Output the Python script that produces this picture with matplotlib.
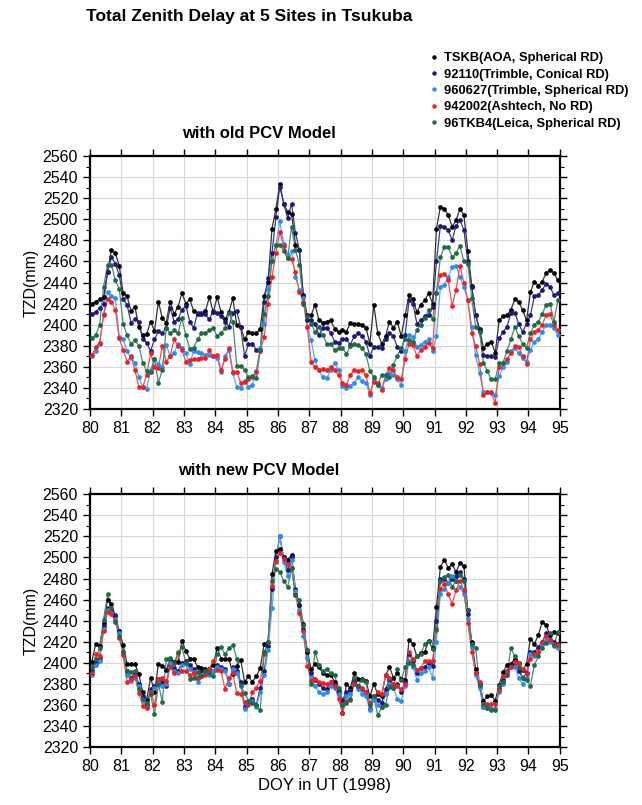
import matplotlib

matplotlib.use("Agg")
import matplotlib.pyplot as plt
import numpy as np
from matplotlib.lines import Line2D
from matplotlib.ticker import MultipleLocator

# 3-hourly epochs, DOY 80-95 (1998)
EPOCH = 80 + (np.arange(120) + 0.5) / 8

SITES = [
    "TSKB(AOA, Spherical RD)",
    "92110(Trimble, Conical RD)",
    "960627(Trimble, Spherical RD)",
    "942002(Ashtech, No RD)",
    "96TKB4(Leica, Spherical RD)",
]
COLORS = ["#000000", "#1b1a7a", "#2a8cf0", "#f01e1e", "#1d6b45"]
LINE_COLORS = ["#333333", "#3a3a8c", "#5aa8f5", "#f05050", "#4f8a6c"]

# TZD (mm), old PCV model
OLD_TSKB = [
    2420, 2422, 2424, 2426, 2450, 2471, 2468, 2456,
    2430, 2427, 2413, 2417, 2398, 2390, 2391, 2403,
    2394, 2422, 2406, 2402, 2422, 2410, 2417, 2430,
    2420, 2424, 2413, 2410, 2410, 2413, 2426, 2412,
    2426, 2412, 2405, 2412, 2425, 2400, 2398, 2386,
    2393, 2392, 2392, 2396, 2427, 2441, 2491, 2510,
    2534, 2515, 2507, 2505, 2476, 2471, 2428, 2409,
    2409, 2419, 2404, 2402, 2403, 2404, 2396, 2393,
    2395, 2393, 2402, 2401, 2401, 2400, 2397, 2382,
    2419, 2392, 2382, 2389, 2403, 2397, 2403, 2389,
    2409, 2428, 2424, 2412, 2419, 2423, 2430, 2420,
    2491, 2512, 2510, 2504, 2493, 2499, 2510, 2504,
    2470, 2437, 2409, 2396, 2378, 2382, 2384, 2373,
    2404, 2408, 2409, 2414, 2424, 2422, 2414, 2404,
    2431, 2441, 2437, 2441, 2449, 2452, 2449, 2442,
]
OLD_92110 = [
    2410, 2412, 2416, 2420, 2450, 2464, 2458, 2447,
    2424, 2419, 2402, 2405, 2403, 2386, 2383, 2375,
    2386, 2394, 2392, 2397, 2416, 2403, 2405, 2414,
    2418, 2403, 2397, 2411, 2411, 2410, 2405, 2413,
    2411, 2408, 2403, 2398, 2411, 2413, 2398, 2370,
    2382, 2382, 2376, 2376, 2422, 2444, 2468, 2502,
    2531, 2515, 2501, 2515, 2487, 2471, 2427, 2404,
    2404, 2401, 2390, 2397, 2397, 2392, 2384, 2383,
    2386, 2386, 2381, 2389, 2392, 2389, 2384, 2370,
    2379, 2379, 2378, 2386, 2392, 2389, 2379, 2375,
    2390, 2423, 2420, 2401, 2404, 2408, 2409, 2417,
    2460, 2494, 2493, 2490, 2480, 2494, 2499, 2490,
    2460, 2436, 2409, 2395, 2371, 2370, 2370, 2369,
    2387, 2393, 2398, 2411, 2411, 2401, 2393, 2401,
    2409, 2427, 2428, 2433, 2439, 2436, 2428, 2430,
]
OLD_960627 = [
    2370, 2375, 2382, 2410, 2431, 2427, 2425, 2388,
    2386, 2375, 2368, 2364, 2350, 2341, 2339, 2357,
    2367, 2363, 2360, 2381, 2370, 2373, 2382, 2378,
    2373, 2363, 2375, 2374, 2373, 2371, 2371, 2370,
    2368, 2355, 2370, 2376, 2354, 2341, 2340, 2347,
    2341, 2343, 2356, 2378, 2401, 2434, 2461, 2476,
    2498, 2477, 2466, 2470, 2445, 2433, 2425, 2398,
    2385, 2366, 2357, 2350, 2349, 2357, 2364, 2357,
    2342, 2340, 2342, 2345, 2350, 2347, 2345, 2333,
    2348, 2343, 2340, 2348, 2354, 2352, 2348, 2343,
    2375, 2390, 2388, 2379, 2381, 2384, 2386, 2375,
    2389, 2436, 2438, 2445, 2455, 2456, 2445, 2436,
    2423, 2398, 2371, 2354, 2336, 2336, 2335, 2333,
    2351, 2360, 2365, 2375, 2378, 2373, 2368, 2365,
    2376, 2384, 2386, 2393, 2400, 2400, 2397, 2390,
]
OLD_942002 = [
    2371, 2379, 2383, 2409, 2424, 2422, 2414, 2387,
    2376, 2365, 2370, 2357, 2341, 2341, 2352, 2373,
    2360, 2359, 2380, 2365, 2370, 2386, 2380, 2376,
    2365, 2366, 2367, 2367, 2368, 2368, 2376, 2370,
    2371, 2357, 2367, 2378, 2355, 2355, 2345, 2346,
    2348, 2350, 2355, 2375, 2388, 2420, 2445, 2468,
    2488, 2475, 2463, 2462, 2450, 2431, 2422, 2398,
    2365, 2360, 2357, 2358, 2357, 2360, 2357, 2352,
    2345, 2343, 2352, 2357, 2356, 2357, 2352, 2335,
    2346, 2345, 2338, 2352, 2359, 2357, 2350, 2348,
    2367, 2382, 2381, 2370, 2376, 2379, 2383, 2378,
    2430, 2447, 2448, 2442, 2418, 2433, 2456, 2440,
    2423, 2392, 2380, 2363, 2333, 2336, 2336, 2326,
    2360, 2364, 2367, 2373, 2380, 2379, 2370, 2363,
    2386, 2393, 2395, 2400, 2409, 2410, 2400, 2395,
]
OLD_96TKB4 = [
    2387, 2390, 2400, 2436, 2457, 2457, 2442, 2434,
    2401, 2390, 2382, 2385, 2380, 2364, 2356, 2355,
    2367, 2345, 2357, 2397, 2392, 2395, 2392, 2406,
    2390, 2377, 2378, 2386, 2392, 2392, 2395, 2397,
    2389, 2392, 2397, 2411, 2403, 2361, 2361, 2357,
    2350, 2351, 2349, 2376, 2410, 2427, 2460, 2476,
    2476, 2470, 2463, 2493, 2471, 2457, 2420, 2408,
    2401, 2393, 2398, 2390, 2382, 2382, 2376, 2378,
    2378, 2372, 2380, 2382, 2381, 2378, 2372, 2356,
    2350, 2343, 2352, 2352, 2350, 2362, 2370, 2378,
    2386, 2385, 2384, 2395, 2400, 2406, 2414, 2405,
    2430, 2464, 2474, 2474, 2464, 2468, 2475, 2460,
    2458, 2425, 2398, 2393, 2364, 2356, 2348, 2348,
    2364, 2364, 2375, 2386, 2398, 2389, 2382, 2378,
    2392, 2400, 2403, 2410, 2419, 2420, 2403, 2423,
]

# TZD (mm), new PCV model
NEW_TSKB = [
    2401, 2418, 2416, 2438, 2460, 2456, 2444, 2430,
    2417, 2399, 2399, 2399, 2389, 2372, 2365, 2386,
    2372, 2399, 2397, 2393, 2404, 2401, 2401, 2421,
    2411, 2404, 2404, 2396, 2395, 2394, 2394, 2398,
    2414, 2404, 2404, 2404, 2389, 2397, 2403, 2382,
    2387, 2382, 2387, 2395, 2418, 2420, 2484, 2506,
    2508, 2500, 2498, 2502, 2465, 2455, 2437, 2410,
    2394, 2399, 2396, 2390, 2388, 2388, 2382, 2371,
    2352, 2380, 2376, 2390, 2385, 2385, 2383, 2368,
    2380, 2370, 2368, 2388, 2396, 2386, 2390, 2385,
    2384, 2422, 2418, 2406, 2409, 2410, 2421, 2414,
    2453, 2491, 2498, 2490, 2494, 2486, 2495, 2492,
    2450, 2420, 2394, 2380, 2364, 2368, 2369, 2364,
    2379, 2391, 2398, 2399, 2404, 2400, 2393, 2399,
    2423, 2418, 2426, 2439, 2436, 2426, 2429, 2428,
]
NEW_92110 = [
    2392, 2400, 2405, 2435, 2452, 2450, 2445, 2430,
    2410, 2392, 2386, 2390, 2380, 2368, 2360, 2375,
    2378, 2385, 2382, 2378, 2398, 2395, 2392, 2400,
    2402, 2398, 2394, 2386, 2392, 2392, 2390, 2392,
    2398, 2396, 2394, 2380, 2396, 2392, 2382, 2358,
    2362, 2366, 2360, 2376, 2392, 2416, 2470, 2500,
    2520, 2500, 2488, 2500, 2470, 2455, 2432, 2412,
    2390, 2384, 2380, 2376, 2375, 2382, 2380, 2373,
    2365, 2372, 2374, 2382, 2378, 2375, 2372, 2356,
    2368, 2365, 2362, 2375, 2384, 2378, 2380, 2372,
    2382, 2408, 2402, 2390, 2395, 2396, 2400, 2397,
    2440, 2480, 2480, 2476, 2480, 2482, 2486, 2480,
    2446, 2418, 2390, 2378, 2358, 2357, 2356, 2356,
    2375, 2384, 2392, 2398, 2400, 2392, 2386, 2390,
    2410, 2410, 2415, 2420, 2428, 2422, 2420, 2418,
]
NEW_960627 = [
    2388, 2398, 2402, 2432, 2450, 2447, 2442, 2428,
    2408, 2388, 2383, 2386, 2378, 2364, 2358, 2372,
    2376, 2380, 2378, 2380, 2400, 2392, 2390, 2398,
    2400, 2394, 2391, 2382, 2388, 2390, 2388, 2392,
    2396, 2394, 2392, 2380, 2394, 2390, 2378, 2356,
    2360, 2364, 2358, 2372, 2388, 2412, 2452, 2496,
    2520, 2496, 2482, 2498, 2468, 2450, 2425, 2405,
    2385, 2378, 2372, 2370, 2372, 2378, 2376, 2370,
    2360, 2368, 2370, 2380, 2375, 2370, 2368, 2355,
    2365, 2360, 2358, 2370, 2380, 2376, 2366, 2364,
    2378, 2402, 2396, 2384, 2390, 2392, 2396, 2386,
    2420, 2465, 2470, 2476, 2482, 2478, 2472, 2465,
    2442, 2415, 2388, 2376, 2358, 2358, 2357, 2356,
    2372, 2380, 2388, 2396, 2396, 2386, 2380, 2386,
    2408, 2406, 2410, 2418, 2422, 2420, 2416, 2414,
]
NEW_942002 = [
    2390, 2408, 2406, 2430, 2448, 2446, 2440, 2424,
    2407, 2382, 2385, 2387, 2371, 2359, 2357, 2372,
    2360, 2385, 2386, 2383, 2396, 2390, 2410, 2392,
    2392, 2388, 2390, 2386, 2387, 2388, 2394, 2402,
    2393, 2392, 2375, 2386, 2390, 2371, 2370, 2363,
    2361, 2372, 2376, 2383, 2408, 2420, 2473, 2497,
    2504, 2499, 2494, 2490, 2464, 2447, 2430, 2397,
    2383, 2385, 2382, 2381, 2380, 2382, 2378, 2366,
    2352, 2364, 2365, 2380, 2378, 2376, 2372, 2362,
    2368, 2372, 2370, 2388, 2386, 2380, 2378, 2375,
    2380, 2410, 2404, 2393, 2395, 2402, 2402, 2402,
    2431, 2470, 2475, 2465, 2456, 2469, 2478, 2469,
    2438, 2410, 2390, 2382, 2361, 2361, 2361, 2361,
    2374, 2387, 2391, 2396, 2401, 2400, 2394, 2389,
    2404, 2408, 2410, 2420, 2425, 2422, 2418, 2417,
]
NEW_96TKB4 = [
    2396, 2404, 2414, 2441, 2465, 2452, 2439, 2425,
    2410, 2392, 2391, 2392, 2375, 2366, 2362, 2370,
    2351, 2380, 2363, 2404, 2405, 2400, 2409, 2415,
    2400, 2385, 2386, 2391, 2387, 2392, 2390, 2387,
    2408, 2415, 2408, 2414, 2417, 2404, 2379, 2371,
    2364, 2362, 2360, 2355, 2410, 2420, 2478, 2489,
    2486, 2478, 2472, 2490, 2464, 2460, 2436, 2412,
    2380, 2410, 2398, 2392, 2394, 2390, 2388, 2376,
    2360, 2362, 2366, 2386, 2378, 2384, 2382, 2360,
    2368, 2350, 2358, 2360, 2377, 2376, 2394, 2384,
    2396, 2400, 2398, 2406, 2408, 2418, 2421, 2413,
    2432, 2478, 2481, 2483, 2472, 2478, 2483, 2478,
    2450, 2418, 2414, 2379, 2361, 2358, 2355, 2355,
    2378, 2382, 2388, 2414, 2406, 2396, 2386, 2384,
    2378, 2398, 2406, 2414, 2419, 2428, 2417, 2429,
]

OLD_SERIES = [OLD_TSKB, OLD_92110, OLD_960627, OLD_942002, OLD_96TKB4]
NEW_SERIES = [NEW_TSKB, NEW_92110, NEW_960627, NEW_942002, NEW_96TKB4]

plt.rcParams.update(
    {
        "font.family": ["Liberation Sans", "DejaVu Sans"],
        "font.size": 11,
        "axes.linewidth": 1.6,
        "xtick.direction": "out",
        "ytick.direction": "out",
    }
)

fig = plt.figure(figsize=(6.42, 8.05), dpi=100)
ax_old = fig.add_axes([0.140, 0.492, 0.732, 0.314])
ax_new = fig.add_axes([0.140, 0.072, 0.732, 0.314])


def draw_panel(ax, series):
    for values, color, line_color in zip(series, COLORS, LINE_COLORS):
        ax.plot(EPOCH, values, color=line_color, linewidth=0.9, zorder=2)
        ax.plot(EPOCH, values, linestyle="none", marker="o", markersize=3.4,
                color=color, markeredgewidth=0, zorder=3)
    ax.set_xlim(80, 95)
    ax.set_ylim(2320, 2560)
    ax.xaxis.set_major_locator(MultipleLocator(1))
    ax.yaxis.set_major_locator(MultipleLocator(20))
    ax.yaxis.set_minor_locator(MultipleLocator(10))
    ax.tick_params(which="both", top=True, right=True, labeltop=False, labelright=False)
    ax.tick_params(which="major", length=5, width=1.0, labelsize=11.5)
    ax.tick_params(which="minor", length=3, width=0.8)
    ax.grid(which="major", color="#d8d8d8", linewidth=0.8, zorder=0)
    ax.set_axisbelow(True)
    ax.set_ylabel("TZD(mm)", fontsize=11.5, labelpad=3)


draw_panel(ax_old, OLD_SERIES)
draw_panel(ax_new, NEW_SERIES)
ax_new.set_xlabel("DOY in UT (1998)", fontsize=12, labelpad=3)

fig.text(0.388, 0.979, "Total Zenith Delay at 5 Sites in Tsukuba",
         ha="center", va="center", fontsize=12.5, fontweight="bold")
fig.text(0.403, 0.834, "with old PCV Model", ha="center", va="center",
         fontsize=12, fontweight="bold")
fig.text(0.403, 0.415, "with new PCV Model", ha="center", va="center",
         fontsize=12, fontweight="bold")

handles = [
    Line2D([], [], linestyle="none", marker="o", markersize=3.2, color=c, markeredgewidth=0)
    for c in COLORS
]
legend = fig.legend(handles, SITES, loc="upper left", bbox_to_anchor=(0.66, 0.943),
                    frameon=False, handlelength=0.6, handletextpad=0.5,
                    labelspacing=0.33, borderpad=0, prop={"size": 9.3, "weight": "bold"})

fig.savefig("out.png", dpi=100, facecolor="white")
